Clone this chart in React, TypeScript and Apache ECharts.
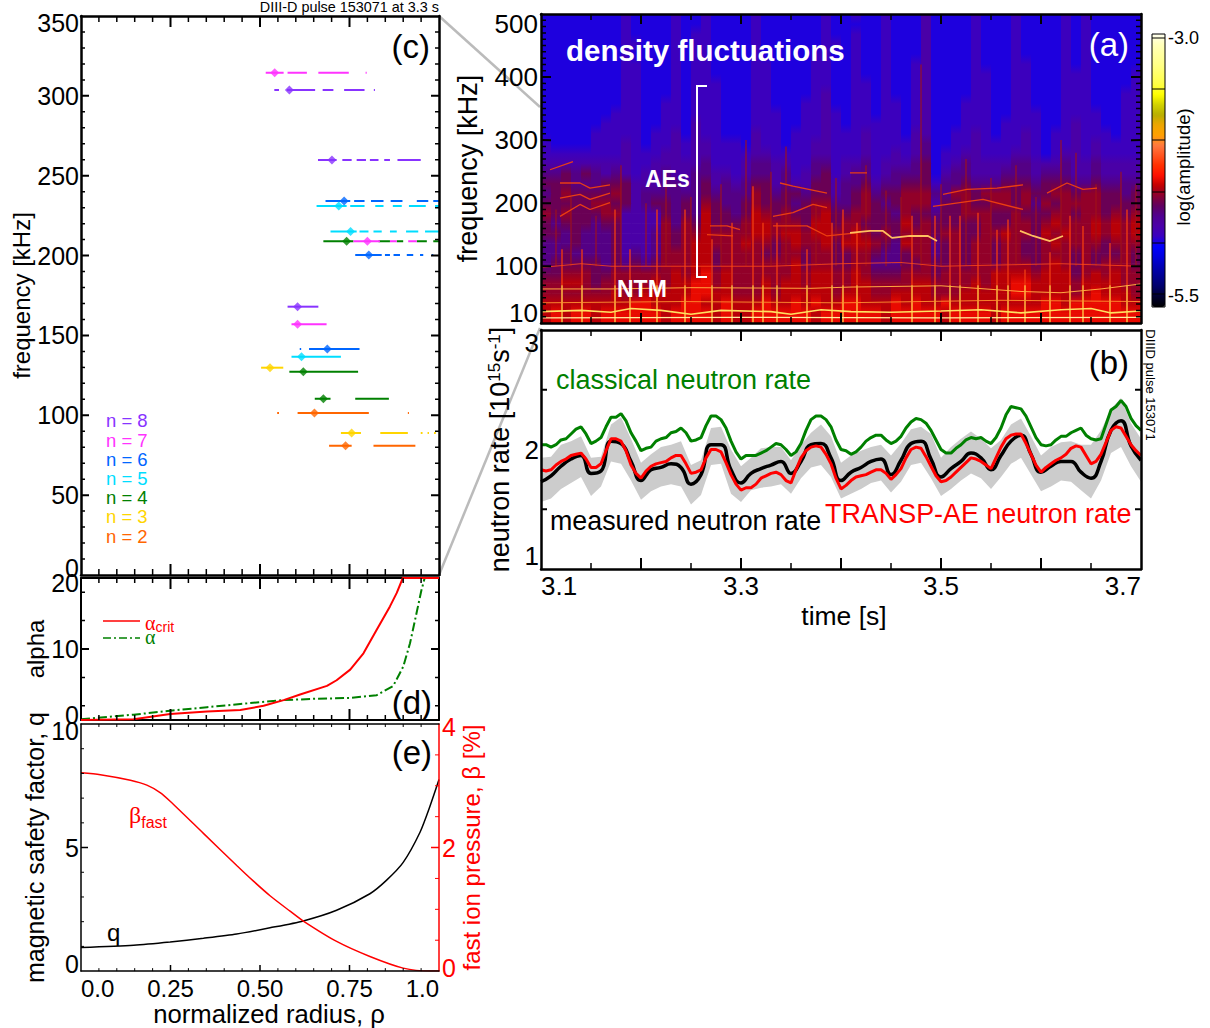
import React, { useEffect, useRef } from "react";
import * as echarts from "echarts";

const FONT = "Liberation Sans";

/* ---------- (a) spectrogram: hand-read levels, one char per 0.01 s, rows 15.8 kHz tall, top to bottom ---------- */
const spectrogramRows = [
  "1111111121 1112112111 1211111121 1211211131 1112111211 1121211111",
  "1111111121 1112112111 1211111121 1111211131 1112111211 1121211111",
  "1111111121 1112122111 1211111121 1211211131 1112111211 1121211111",
  "1111111122 1112122111 1211111122 1211211131 1112111211 1121211111",
  "1111111121 1112122111 1211111221 1211211131 1112111211 1121211111",
  "1111111122 1112122111 1221111221 1211211231 1112111221 1121211111",
  "1111111122 1112122111 1221111221 1211211231 1112211221 1122211112",
  "1111111122 1112122211 1221111221 1221211231 1112211221 1122211112",
  "1111111122 1112122211 1221111231 1221211231 1112211221 1122211122",
  "1111111122 1122122211 1221112231 1221221231 1122211221 1122211122",
  "1111111222 1122122211 1222112232 1221221231 1122211222 1122221122",
  "1111112222 1122132211 1222112232 1222221231 1122212222 1123221122",
  "1111122222 1223132211 1322122232 2232221331 1223212232 1223222122",
  "2111122232 1223233222 1322122332 2232222341 1223222232 1223232222",
  "2222222232 2233233222 2332222332 2232232341 2233222332 1233232222",
  "3333333332 2333334222 3443322442 3342333451 2343333443 3343343333",
  "4454543432 3343344332 3443423452 3442344451 3443334443 4443343333",
  "5554445553 3344345343 4553433553 4453445552 4454445554 5554454444",
  "4565555653 4444445444 4654554553 4564556664 4665666565 5665665545",
  "5555566553 4554546544 5655545664 4565456663 5565566564 6566665555",
  "6565556633 3354547554 5765655675 5665546554 5566655655 5665665656",
  "5455545533 3364657555 6776665775 6655557565 5555655665 6766676767",
  "5545444533 3465667666 6776776776 6765656665 6655667665 7676676767",
  "4445444533 3465677666 7665676675 7776547664 5656656655 6766665666",
  "4454444534 3466677566 6655665665 5665445664 5656656655 6665655565",
  "4555554545 4566677566 6666675665 5664445565 5656656665 6765656665",
  "5566655666 6667678676 6666676776 6765556665 6666677776 7775676766",
  "6677656666 6767788676 6676776776 6776666776 6667677887 7776777766",
  "6666666766 7777788776 6676777776 7776677776 6677777887 7776787776",
  "7777777778 8777887787 7787787877 8877787877 8777777777 8878888877",
  "7878878888 8878888787 7888888788 8888788888 7888878888 8888888888",
];
const levelToLogAmp = [-5.05, -4.99, -4.93, -4.84, -4.72, -4.62, -4.53, -4.46, -4.38, -4.25];
const colorMin = -5.64;
const colorMax = -2.95;
const colorbarColors = [
  "#000000", "#00002e", "#00006a", "#000090", "#0000b5", "#0000e0", "#0000ff", "#3a00c0",
  "#4a00a8", "#500090", "#600060", "#8a0030", "#c00000", "#ff1000", "#ff3000", "#ff5520",
  "#ff7a40", "#ffa000", "#eea500", "#b8ae00", "#d2d200", "#ffff00", "#ffff44", "#ffff66",
  "#ffff88", "#ffffa0", "#ffffbb", "#fffff0",
];
const streakTimes = [3.115,3.13,3.155,3.18,3.205,3.225,3.25,3.28,3.305,3.33,3.345,3.375,3.395,3.425,3.445,3.46,3.48,3.50,3.525,3.55,3.575,3.595,3.62,3.635,3.655,3.68,3.695];
const streakTopFreqs = [190,210,180,260,200,230,210,230,300,250,290,200,240,260,220,210,420,230,270,240,260,210,300,280,230,250,230];
const spikeTimes = [3.121,3.141,3.174,3.189,3.216,3.244,3.271,3.291,3.312,3.322,3.336,3.366,3.391,3.402,3.416,3.471,3.494,3.509,3.519,3.537,3.556,3.567,3.584,3.609,3.629,3.642,3.669,3.686];
const spikeTopFreqs = [127,127,190,127,190,190,143,169,227,169,169,127,169,190,169,180,180,180,180,185,158,174,95,122,180,164,137,190];
const aeRidges: number[][][] = [
  [[3.109,253],[3.132,266]],
  [[3.119,232],[3.139,232],[3.149,224],[3.169,229]],
  [[3.119,208],[3.139,214],[3.149,206],[3.169,216]],
  [[3.119,179],[3.139,198],[3.149,190],[3.169,201]],
  [[3.269,164],[3.286,164],[3.299,158]],
  [[3.266,150],[3.292,148]],
  [[3.332,179],[3.352,185],[3.372,198],[3.386,193]],
  [[3.332,164],[3.366,164],[3.386,148],[3.416,153]],
  [[3.339,232],[3.352,227],[3.386,216]],
  [[3.409,248],[3.426,248]],
  [[3.502,214],[3.526,222],[3.556,224],[3.582,229]],
  [[3.606,216],[3.626,232],[3.642,222],[3.656,224]],
  [[3.492,195],[3.542,206],[3.582,190]],
];
const brightRidges: number[][][] = [
  [[3.409,153],[3.429,156],[3.442,156],[3.451,145],[3.469,148],[3.487,148],[3.496,140]],
  [[3.579,156],[3.592,148],[3.609,140],[3.622,148]],
];
const ntmLine: number[][] = [[3.10,28],[3.14,30],[3.17,27],[3.19,33],[3.22,30],[3.25,24],[3.28,30],[3.33,28],[3.35,24],[3.38,31],[3.41,28],[3.45,27],[3.50,29],[3.54,31],[3.58,26],[3.62,31],[3.65,33],[3.67,26],[3.70,29]];
const lowLine: number[][] = [[3.10,18],[3.30,19],[3.50,18],[3.70,19]];
const mode64Line: number[][] = [[3.10,64],[3.17,64],[3.25,66],[3.37,65],[3.41,67],[3.50,69],[3.58,60],[3.62,58],[3.66,64],[3.70,72]];
const mode42Line: number[][] = [[3.10,42],[3.24,44],[3.40,42],[3.56,46],[3.70,44]];
const mode100Line: number[][] = [[3.10,98],[3.14,104],[3.17,100],[3.33,100],[3.40,104],[3.46,106],[3.50,100],[3.62,104],[3.70,100]];

/* ---------- (b) neutron rates, sampled every 0.01 s from 3.10 s; the *Mid arrays lie half a step later ---------- */
const classicalRate = [2.04,2.02,2.08,2.13,2.19,2.05,2.10,2.27,2.30,2.14,1.99,2.02,2.09,2.14,2.18,2.07,2.10,2.28,2.25,2.07,1.92,1.95,1.97,2.02,2.04,1.95,2.05,2.25,2.28,2.19,2.00,1.96,2.02,2.10,2.12,2.05,2.11,2.23,2.25,2.16,2.00,1.97,2.04,2.10,2.10,2.05,2.18,2.36,2.34,2.19,2.04,2.04,2.11,2.14,2.18,2.09,2.09,2.33,2.41,2.26,2.16];
const classicalRateMid = [2.04,2.04,2.09,2.17,2.13,2.07,2.19,2.27,2.24,2.07,2.01,2.07,2.10,2.15,2.14,2.08,2.20,2.28,2.18,1.98,1.95,1.95,1.99,2.05,2.00,1.98,2.16,2.28,2.25,2.08,1.99,1.98,2.07,2.12,2.08,2.07,2.18,2.26,2.22,2.08,1.97,2.01,2.08,2.09,2.07,2.10,2.29,2.35,2.28,2.10,2.03,2.08,2.11,2.16,2.12,2.08,2.21,2.36,2.36,2.20];
const measuredRate = [1.73,1.78,1.86,1.92,1.95,1.80,1.82,2.07,2.05,1.90,1.74,1.83,1.85,1.88,1.85,1.71,1.79,2.04,2.04,1.83,1.72,1.80,1.84,1.87,1.90,1.80,1.90,2.04,2.05,1.93,1.74,1.81,1.85,1.90,1.92,1.79,1.91,2.05,2.07,1.92,1.77,1.84,1.90,1.97,1.93,1.83,1.95,2.07,2.12,1.96,1.81,1.86,1.90,1.90,1.81,1.76,1.90,2.16,2.24,2.03,1.91];
const transpRate = [1.83,1.83,1.90,1.95,1.97,1.85,1.88,2.09,2.07,1.87,1.76,1.86,1.89,1.93,1.95,1.80,1.83,2.00,1.98,1.79,1.66,1.68,1.76,1.80,1.79,1.72,1.93,2.02,2.02,1.88,1.67,1.74,1.78,1.81,1.83,1.75,1.84,2.00,2.01,1.86,1.73,1.77,1.85,1.93,1.90,1.84,2.02,2.12,2.13,1.96,1.81,1.88,1.93,2.01,2.02,1.88,1.96,2.16,2.18,2.04,1.95];
const transpRateMid = [1.82,1.87,1.92,1.96,1.92,1.85,1.99,2.09,1.99,1.80,1.82,1.88,1.90,1.95,1.88,1.81,1.93,2.00,1.89,1.71,1.68,1.71,1.78,1.81,1.74,1.83,1.99,2.03,1.96,1.76,1.70,1.77,1.79,1.83,1.80,1.79,1.93,2.02,1.94,1.78,1.74,1.81,1.89,1.92,1.87,1.93,2.09,2.13,2.05,1.87,1.85,1.91,1.96,2.03,1.95,1.90,2.06,2.19,2.11,1.99];
const bandUpper = [1.93,1.94,2.04,2.07,2.11,1.93,1.94,2.21,2.27,2.09,1.89,1.96,2.02,2.04,2.07,1.87,1.91,2.18,2.19,2.00,1.86,1.93,2.01,2.02,2.02,1.91,2.04,2.14,2.21,2.11,1.89,1.95,1.99,2.02,2.04,1.95,2.05,2.17,2.19,2.13,1.93,2.02,2.09,2.15,2.09,2.01,2.08,2.21,2.26,2.11,1.95,2.02,2.06,2.07,2.04,2.04,2.16,2.34,2.43,2.22,2.09];
const bandLower = [1.56,1.59,1.67,1.72,1.77,1.61,1.69,1.90,1.88,1.74,1.58,1.65,1.69,1.71,1.69,1.54,1.62,1.87,1.88,1.63,1.56,1.66,1.68,1.69,1.71,1.63,1.76,1.85,1.87,1.77,1.59,1.63,1.67,1.72,1.74,1.64,1.73,1.87,1.89,1.76,1.61,1.67,1.74,1.80,1.76,1.67,1.77,1.88,1.93,1.79,1.65,1.69,1.74,1.73,1.66,1.59,1.74,1.97,2.02,1.86,1.73];

/* ---------- (c) modes: freq [kHz], rho of the dot, [start, end] of each drawn stretch ---------- */
type Mode = { f: number; dot: number; segs: number[][] };
const n8Modes: Mode[] = [
  { f: 303.7, dot: .582, segs: [[.540,.553],[.575,.654],[.675,.705],[.735,.792],[.818,.821]] },
  { f: 259.9, dot: .701, segs: [[.662,.714],[.730,.756],[.770,.796],[.807,.831],[.847,.863],[.884,.949]] },
  { f: 168, dot: .605, segs: [[.577,.663]] },
];
const n7Modes: Mode[] = [
  { f: 314.5, dot: .541, segs: [[.516,.566],[.577,.631],[.663,.748],[.795,.798]] },
  { f: 209, dot: .800, segs: [[.761,.835],[.863,.882],[.914,.938]] },
  { f: 157, dot: .605, segs: [[.588,.686]] },
];
const n6Modes: Mode[] = [
  { f: 234.2, dot: .735, segs: [[.683,.752],[.763,.792],[.810,.845],[.865,.898],[.938,.970],[.984,1]] },
  { f: 200.4, dot: .804, segs: [[.766,.840],[.849,.863],[.873,.891],[.910,.928],[.947,.956],[.980,.984]] },
  { f: 141.5, dot: .688, segs: [[.611,.615],[.637,.778]] },
];
const n5Modes: Mode[] = [
  { f: 231, dot: .720, segs: [[.658,.742],[.752,.792],[.822,.845],[.871,.896],[.916,.963],[.989,1]] },
  { f: 215, dot: .753, segs: [[.697,.770],[.778,.803],[.817,.840],[.863,.882],[.908,.942],[.961,1]] },
  { f: 136.7, dot: .616, segs: [[.588,.726]] },
];
const n4Modes: Mode[] = [
  { f: 209, dot: .742, segs: [[.677,.761],[.831,.863],[.882,.900],[.938,.966],[.984,1]] },
  { f: 127.3, dot: .621, segs: [[.582,.774]] },
  { f: 110.4, dot: .677, segs: [[.653,.697],[.766,.860]] },
];
const n3Modes: Mode[] = [
  { f: 129.8, dot: .528, segs: [[.503,.565]] },
  { f: 88.9, dot: .756, segs: [[.726,.782],[.836,.913],[.949,.954],[.968,.972],[.986,.991]] },
];
const n2Modes: Mode[] = [
  { f: 101.4, dot: .652, segs: [[.548,.553],[.605,.804],[.913,.916]] },
  { f: 81, dot: .739, segs: [[.693,.756],[.817,.934]] },
];
const modeGroups = [
  { label: "n = 8", color: "#8833ff", modes: n8Modes, y: 420 },
  { label: "n = 7", color: "#ff33ff", modes: n7Modes, y: 440 },
  { label: "n = 6", color: "#0066ff", modes: n6Modes, y: 459 },
  { label: "n = 5", color: "#00ddff", modes: n5Modes, y: 478 },
  { label: "n = 4", color: "#008000", modes: n4Modes, y: 497 },
  { label: "n = 3", color: "#ffd500", modes: n3Modes, y: 516 },
  { label: "n = 2", color: "#ff6600", modes: n2Modes, y: 536 },
];

/* ---------- (d) and (e) profiles ---------- */
const alphaCrit: number[][] = [[0,0],[.147,.1],[.249,.85],[.352,1.2],[.445,1.4],[.51,2],[.566,2.8],[.612,3.6],[.687,4.8],[.714,5.6],[.752,7.1],[.789,9.4],[.826,12.7],[.863,16],[.882,17.9],[.899,20],[1,20]];
const alphaProfile: number[][] = [[0,.1],[.147,.75],[.249,1.3],[.352,1.8],[.445,2.25],[.519,2.6],[.566,2.8],[.659,3],[.752,3.1],[.826,3.5],[.872,4.8],[.9,7.5],[.919,10.8],[.937,15],[.951,18.3],[.96,20]];
const qProfile: number[][] = [[0,.96],[.147,1.05],[.249,1.18],[.342,1.33],[.435,1.5],[.528,1.75],[.621,2.03],[.714,2.46],[.807,3.13],[.853,3.67],[.9,4.4],[.947,5.62],[.975,6.68],[1,7.75]];
const betaFast: number[][] = [[0,3.21],[.054,3.18],[.138,3.09],[.184,3.01],[.221,2.89],[.249,2.75],[.342,2.23],[.435,1.71],[.481,1.46],[.528,1.22],[.584,.97],[.621,.81],[.714,.48],[.807,.236],[.9,.048],[.975,0],[1,0]];

/* ---------- tick lists ---------- */
const seq = (a: number, b: number, s: number) => {
  const out: number[] = [];
  for (let i = 0; a + i * s <= b + 1e-9; i++) out.push(+(a + i * s).toFixed(4));
  return out;
};
const timeMajorTicks = [3.2, 3.3, 3.4, 3.5, 3.6];
const timeMinorTicks = [3.15, 3.25, 3.35, 3.45, 3.55, 3.65];
const rhoMajorTicks = [0.25, 0.5, 0.75];
const rhoMinorTicks = [.05,.1,.15,.2,.3,.35,.4,.45,.55,.6,.65,.7,.8,.85,.9,.95];
const freqAMajorTicks = [100, 200, 300, 400];
const freqAMinorTicks = seq(20, 490, 10).filter((v) => v % 100 !== 0);
const rateTicks = [1.5, 2.5];
const freqCMajorTicks = [50, 100, 150, 200, 250, 300];
const freqCMinorTicks = seq(10, 340, 10).filter((v) => v % 50 !== 0);
const alphaMajorTicks = [10];
const alphaMinorTicks = [2, 6, 14, 18];
const qMajorTicks = [5];
const qMinorTicks = [1, 2, 3, 4, 6, 7, 8, 9];
const betaMajorTicks = [2];
const betaMinorTicks = [.5, 1, 1.5, 2.5, 3, 3.5];

const interleave = (a: number[], b: number[]) => {
  const out: number[][] = [];
  a.forEach((v, i) => {
    out.push([+(3.1 + i * 0.01).toFixed(3), v]);
    if (i < b.length) out.push([+(3.105 + i * 0.01).toFixed(3), b[i]]);
  });
  return out;
};
const colorOf = (v: number) => echarts.color.lerp(Math.min(1, Math.max(0, (v - colorMin) / (colorMax - colorMin))), colorbarColors) as string;

function buildOption() {
  const xAxes: any[] = [];
  const yAxes: any[] = [];

  const grids = [
    { left: 541, top: 14, width: 600, height: 309 }, // a
    { left: 541, top: 330, width: 600, height: 239 }, // b
    { left: 81, top: 16, width: 358, height: 559 }, // c
    { left: 81, top: 578, width: 358, height: 142 }, // d
    { left: 81, top: 724, width: 358, height: 249 }, // e
  ];

  const side = (
    list: any[], grid: number, position: string, min: number, max: number,
    o: { lw: number; color?: string; labels?: any; name?: any },
  ) => {
    const color = o.color || "#000";
    const index = list.length;
    list.push({
      type: "value", gridIndex: grid, position, min, max, silent: true, z: 10,
      splitLine: { show: false },
      axisLine: { show: true, onZero: false, lineStyle: { color, width: o.lw } },
      axisTick: { show: false },
      axisLabel: o.labels || { show: false },
      ...(o.name || {}),
    });
    return index;
  };

  const yLabels = (values: number[], offset: number, margin: number, color = "#000", fontSize = 25) => ({
    show: true, customValues: values, margin, color, fontSize, fontFamily: FONT, lineHeight: offset * 2,
    verticalAlignMinLabel: "bottom", verticalAlignMaxLabel: "top",
    formatter: (v: number) => String(v),
  });
  const yName = (name: string, gap: number, fontSize: number, color = "#000", extra: any = {}) => ({
    name, nameLocation: "middle", nameGap: gap, nameRotate: 90,
    nameTextStyle: { color, fontSize, fontFamily: FONT, ...extra },
  });
  const xName = (name: string, gap: number, fontSize: number, shift: number) => ({
    name, nameLocation: "middle", nameGap: gap,
    nameTextStyle: { color: "#000", fontSize, fontFamily: FONT, padding: [0, 0, 0, shift] },
  });

  // panel (a)
  const ax = side(xAxes, 0, "bottom", 3.1, 3.7, { lw: 2.5 });
  side(xAxes, 0, "top", 3.1, 3.7, { lw: 2.5 });
  const ay = side(yAxes, 0, "left", 10, 500, {
    lw: 2.5, labels: yLabels([10, 100, 200, 300, 400, 500], 10, 3, "#000", 26), name: yName("frequency [kHz]", 60, 27),
  });
  side(yAxes, 0, "right", 10, 500, { lw: 2.5 });

  // panel (b)
  const bx = side(xAxes, 1, "bottom", 3.1, 3.7, {
    lw: 2.5,
    labels: {
      show: true, customValues: [3.1, 3.3, 3.5, 3.7], margin: 4, color: "#000", fontSize: 26, fontFamily: FONT,
      alignMinLabel: "left", alignMaxLabel: "right", formatter: (v: number) => v.toFixed(1),
    },
    name: xName("time [s]", 33, 26.5, 6),
  });
  side(xAxes, 1, "top", 3.1, 3.7, { lw: 2.5 });
  const by = side(yAxes, 1, "left", 1, 3, {
    lw: 2.5, labels: yLabels([1, 2, 3], 13, 2, "#000", 26),
    name: yName("neutron rate [10{sup|15}s{sup|-1}]", 28, 27, "#000", {
      rich: { sup: { fontSize: 17, fontFamily: FONT, verticalAlign: "top", lineHeight: 27, color: "#000" } },
    }),
  });
  side(yAxes, 1, "right", 1, 3, { lw: 2.5 });

  // panel (c)
  const cx = side(xAxes, 2, "bottom", 0, 1, { lw: 2.5 });
  side(xAxes, 2, "top", 0, 1, { lw: 2.5 });
  const cy = side(yAxes, 2, "left", 0, 350, {
    lw: 2.5, labels: yLabels([0, 50, 100, 150, 200, 250, 300, 350], 7, 2), name: yName("frequency [kHz]", 47, 24),
  });
  side(yAxes, 2, "right", 0, 350, { lw: 2.5 });

  // panel (d)
  const dx = side(xAxes, 3, "bottom", 0, 1, { lw: 2 });
  side(xAxes, 3, "top", 0, 1, { lw: 2 });
  const dy = side(yAxes, 3, "left", 0, 20, {
    lw: 2, labels: yLabels([0, 10, 20], 5, 2), name: yName("alpha", 24, 24),
  });
  side(yAxes, 3, "right", 0, 20, { lw: 2 });

  // panel (e)
  const ex = side(xAxes, 4, "bottom", 0, 1, {
    lw: 1.5,
    labels: {
      show: true, customValues: [0, .25, .5, .75, 1], margin: 5, color: "#000", fontSize: 24, fontFamily: FONT,
      alignMinLabel: "left", alignMaxLabel: "right",
      formatter: (v: number) => (v === 0 ? "0.0" : v === 1 ? "1.0" : v.toFixed(2)),
    },
    name: xName("normalized radius, ρ", 27, 25.7, 18),
  });
  side(xAxes, 4, "top", 0, 1, { lw: 1.5 });
  const ey = side(yAxes, 4, "left", 0, 10, {
    lw: 1.5, labels: yLabels([0, 5, 10], 7, 2), name: yName("magnetic safety factor, q", 26, 25),
  });
  const eyr = side(yAxes, 4, "right", 0, 4, {
    lw: 1.5, color: "#ff0000",
    labels: yLabels([0, 2, 4], 3, 3, "#ff0000"), name: yName("fast ion pressure, β [%]", 20, 24, "#ff0000"),
  });

  /* series */
  const series: any[] = [];
  const rowCount = spectrogramRows.length;
  const df = 490 / rowCount;
  const dt = 0.01;
  const cells: number[][] = [];
  const rows = spectrogramRows.map((r) => r.replace(/ /g, ""));
  rows.forEach((chars, r) => {
    const next = rows[Math.min(r + 1, rowCount - 1)];
    for (let c = 0; c < chars.length; c++) {
      cells.push([3.1 + c * dt, 500 - r * df, levelToLogAmp[+chars[c]], levelToLogAmp[+next[c]]]);
    }
  });
  series.push({
    type: "custom", name: "density fluctuations", xAxisIndex: ax, yAxisIndex: ay, clip: true, silent: true,
    data: cells, encode: { x: 0, y: 1 }, z: 1,
    renderItem: (_p: any, api: any) => {
      const a = api.coord([api.value(0), api.value(1)]);
      const b = api.coord([api.value(0) + dt, api.value(1) - df]);
      return {
        type: "rect",
        shape: { x: a[0], y: a[1], width: b[0] - a[0] + 0.6, height: b[1] - a[1] + 0.6 },
        style: {
          fill: new echarts.graphic.LinearGradient(0, 0, 0, 1, [
            { offset: 0, color: colorOf(api.value(2)) },
            { offset: 1, color: colorOf(api.value(3)) },
          ]),
        },
      };
    },
  });

  const flat = (lines: number[][][]) => {
    const out: any[] = [];
    lines.forEach((l) => { l.forEach((p) => out.push(p)); out.push([null, null]); });
    return out;
  };
  const aLine = (data: any[], color: string, width: number, opacity = 1) => series.push({
    type: "line", xAxisIndex: ax, yAxisIndex: ay, data, symbol: "none", silent: true, z: 2, smooth: false, connectNulls: false,
    lineStyle: { color, width, opacity },
  });
  aLine(flat(streakTimes.map((t, i) => [[t, 100], [t, streakTopFreqs[i]]])), "#a01018", 2, 0.55);
  aLine(flat(spikeTimes.map((t, i) => [[t, 70], [t, spikeTopFreqs[i]]])), "#f03a10", 1.6, 0.85);
  aLine(flat(spikeTimes.map((t) => [[t, 10], [t, 70]])), "#ffb840", 1.6, 0.95);
  aLine(flat(aeRidges), "#f04010", 1.3, 0.95);
  aLine(flat(brightRidges), "#ffc060", 1.8);
  aLine(mode100Line, "#ff4818", 1, 0.8);
  aLine(mode64Line, "#ffa840", 1);
  aLine(mode42Line, "#ff9030", 1, 0.9);
  aLine(ntmLine, "#ffe060", 1.6);
  aLine(lowLine, "#ffeea0", 1.2);

  const times = classicalRate.map((_, i) => +(3.1 + i * 0.01).toFixed(2));
  series.push({
    type: "custom", name: "band", xAxisIndex: bx, yAxisIndex: by, silent: true, clip: true, z: 2,
    data: [[times[0], bandLower[0]]], encode: { x: 0, y: 1 },
    renderItem: (_p: any, api: any) => {
      const pts: number[][] = [];
      times.forEach((t, i) => pts.push(api.coord([t, bandUpper[i]])));
      for (let i = times.length - 1; i >= 0; i--) pts.push(api.coord([times[i], bandLower[i]]));
      return { type: "polygon", shape: { points: pts }, style: { fill: "#cccccc" } };
    },
  });
  const bLine = (data: number[][], color: string, width: number, name: string, smooth = false) => series.push({
    type: "line", name, xAxisIndex: bx, yAxisIndex: by, symbol: "none", silent: true, z: 3, smooth,
    data, lineStyle: { color, width },
  });
  bLine(interleave(classicalRate, classicalRateMid), "#008000", 3, "classical neutron rate");
  bLine(measuredRate.map((v, i) => [times[i], v]), "#000000", 3.5, "measured neutron rate", true);
  bLine(interleave(transpRate, transpRateMid), "#ff0000", 3, "TRANSP-AE neutron rate");

  modeGroups.slice().reverse().forEach((g) => {
    g.modes.forEach((m) => {
      series.push({
        type: "line", name: g.label, xAxisIndex: cx, yAxisIndex: cy, symbol: "none", silent: true, z: 3,
        data: flat(m.segs.map((s) => [[s[0], m.f], [s[1], m.f]])), lineStyle: { color: g.color, width: 2 },
      });
      series.push({
        type: "scatter", name: g.label, xAxisIndex: cx, yAxisIndex: cy, symbol: "diamond", symbolSize: 9, silent: true, z: 4,
        data: [[m.dot, m.f]], itemStyle: { color: g.color },
      });
    });
  });

  series.push({
    type: "line", name: "alpha crit", xAxisIndex: dx, yAxisIndex: dy, symbol: "none", silent: true, z: 12,
    data: alphaCrit, lineStyle: { color: "#ff0000", width: 2 }, clip: false,
  });
  series.push({
    type: "line", name: "alpha", xAxisIndex: dx, yAxisIndex: dy, symbol: "none", silent: true, z: 3,
    data: alphaProfile, lineStyle: { color: "#008000", width: 2, type: [9, 3, 2, 3] },
  });
  series.push({
    type: "line", name: "q", xAxisIndex: ex, yAxisIndex: ey, symbol: "none", silent: true, z: 3,
    data: qProfile, smooth: 0.25, lineStyle: { color: "#000", width: 1.5 },
  });
  series.push({
    type: "line", name: "beta fast", xAxisIndex: ex, yAxisIndex: eyr, symbol: "none", silent: true, z: 3,
    data: betaFast, smooth: 0.25, lineStyle: { color: "#ff0000", width: 1.5 },
  });

  /* ticks: inward strokes placed through each panel's own scales */
  const tickSeries = (xIdx: number, yIdx: number, color: string, items: number[][]) => series.push({
    type: "custom", name: "ticks", xAxisIndex: xIdx, yAxisIndex: yIdx, silent: true, clip: false, z: 20,
    data: items, encode: { x: 0, y: 1 },
    renderItem: (_p: any, api: any) => {
      const a = api.coord([api.value(0), api.value(1)]);
      return {
        type: "line",
        shape: { x1: a[0], y1: a[1], x2: a[0] + api.value(2) + 0.01, y2: a[1] + api.value(3) + 0.01 },
        style: { stroke: color, lineWidth: api.value(4) },
      };
    },
  });
  const xTicks = (values: number[], yMin: number, yMax: number, len: number, width: number) => values.flatMap((v) => [
    [v, yMin, 0, -len, width], [v, yMax, 0, len, width],
  ]);
  const yTicks = (values: number[], xMin: number, xMax: number, len: number, width: number) => values.flatMap((v) => [
    [xMin, v, len, 0, width], [xMax, v, -len, 0, width],
  ]);
  tickSeries(ax, ay, "#000", [
    ...xTicks(timeMajorTicks, 10, 500, 10, 2), ...xTicks(timeMinorTicks, 10, 500, 6, 1.5),
    ...yTicks(freqAMajorTicks, 3.1, 3.7, 10, 2), ...yTicks(freqAMinorTicks, 3.1, 3.7, 5, 1.5),
  ]);
  tickSeries(bx, by, "#000", [
    ...xTicks(timeMajorTicks, 1, 3, 11, 2), ...xTicks(timeMinorTicks, 1, 3, 6, 1.5),
    ...yTicks(rateTicks, 3.1, 3.7, 6, 2),
  ]);
  tickSeries(cx, cy, "#000", [
    ...xTicks(rhoMajorTicks, 0, 350, 11, 2), ...xTicks(rhoMinorTicks, 0, 350, 6, 1.5),
    ...yTicks(freqCMajorTicks, 0, 1, 8, 2), ...yTicks(freqCMinorTicks, 0, 1, 4, 1.5),
  ]);
  tickSeries(dx, dy, "#000", [
    ...xTicks(rhoMajorTicks, 0, 20, 11, 2), ...xTicks(rhoMinorTicks, 0, 20, 5, 1.5),
    ...yTicks(alphaMajorTicks, 0, 1, 8, 2), ...yTicks(alphaMinorTicks, 0, 1, 4, 1.5),
  ]);
  tickSeries(ex, ey, "#000", [
    ...xTicks(rhoMajorTicks, 0, 10, 6, 1.5), ...xTicks(rhoMinorTicks, 0, 10, 3, 1),
    ...qMajorTicks.map((v) => [0, v, 7, 0, 1.5]), ...qMinorTicks.map((v) => [0, v, 3, 0, 1]),
  ]);
  tickSeries(ex, eyr, "#ff0000", [
    ...betaMajorTicks.map((v) => [1, v, -8, 0, 1.5]), ...betaMinorTicks.map((v) => [1, v, -4, 0, 1]),
  ]);

  /* annotations */
  const txt = (text: string, x: number, y: number, fontSize: number, fill: string, o: any = {}) => ({
    type: "text", x, y, z: 100, silent: true, rotation: o.rotation || 0,
    style: {
      text, fill, fontSize, fontFamily: o.fontFamily || FONT, fontWeight: o.fontWeight || "normal",
      textAlign: o.align || "left", textVerticalAlign: "middle", rich: o.rich,
    },
  });
  const graphicLine = (x1: number, y1: number, x2: number, y2: number, stroke: string, lineWidth: number, z = 100) => ({
    type: "line", z, silent: true, shape: { x1, y1, x2, y2 }, style: { stroke, lineWidth },
  });
  const graphic: any[] = [
    graphicLine(439, 16, 540, 107, "#bbbbbb", 2.5, 0),
    graphicLine(439, 575, 540, 328, "#bbbbbb", 2.5, 0),
    txt("DIII-D pulse 153071 at 3.3 s", 439, 7, 14.4, "#000", { align: "right" }),
    txt("density fluctuations", 566, 50, 29.5, "#fff", { fontWeight: "bold" }),
    txt("AEs", 645, 179, 23, "#fff", { fontWeight: "bold" }),
    txt("NTM", 617, 289, 23, "#fff", { fontWeight: "bold" }),
    { type: "polyline", z: 100, silent: true, shape: { points: [[707, 86], [697, 86], [697, 277], [707, 277]] }, style: { stroke: "#fff", lineWidth: 2, fill: "none" } },
    txt("(a)", 1129, 44, 33, "#fff", { align: "right" }),
    txt("(b)", 1129, 362, 33, "#000", { align: "right" }),
    txt("(c)", 430, 46, 33, "#000", { align: "right" }),
    txt("(d)", 432, 702, 33, "#000", { align: "right" }),
    txt("(e)", 432, 752, 33, "#000", { align: "right" }),
    txt("classical neutron rate", 556, 380, 27, "#008000"),
    txt("measured neutron rate", 550, 521, 26.8, "#000"),
    txt("TRANSP-AE neutron rate", 825, 514, 26.9, "#ff0000"),
    txt("DIIID pulse 153071", 1150, 385, 13, "#000", { align: "center", rotation: -Math.PI / 2 }),
    txt("log(amplitude)", 1183, 167, 18.5, "#000", { align: "center", rotation: Math.PI / 2 }),
    txt("-3.0", 1168, 38, 18, "#000"),
    txt("-5.5", 1168, 296, 18, "#000"),
    { type: "rect", z: 100, silent: true, shape: { x: 1152, y: 34, width: 13, height: 273 }, style: { stroke: "#000", lineWidth: 1, fill: "none" } },
    ...[38, 89, 140, 192, 243, 294].map((y) => graphicLine(1152, y, 1165, y, "#000", 1)),
    graphicLine(103, 621, 140, 621, "#ff0000", 1.5),
    { type: "line", z: 100, silent: true, shape: { x1: 103, y1: 638, x2: 140, y2: 638 }, style: { stroke: "#008000", lineWidth: 1.5, lineDash: [8, 3, 2, 3] } },
    txt("{a|α}{s|crit}", 145, 623, 20, "#ff0000", {
      fontFamily: "Liberation Serif",
      rich: { a: { fontSize: 20, fontFamily: "Liberation Serif", color: "#ff0000" }, s: { fontSize: 14, fontFamily: FONT, verticalAlign: "bottom", color: "#ff0000", padding: [8, 0, 0, 0] } },
    }),
    txt("α", 145, 637, 20, "#008000", { fontFamily: "Liberation Serif" }),
    txt("{b|β}{s|fast}", 129, 815, 24, "#ff0000", {
      fontFamily: "Liberation Serif",
      rich: { b: { fontSize: 24, fontFamily: "Liberation Serif", color: "#ff0000" }, s: { fontSize: 16, fontFamily: FONT, verticalAlign: "bottom", color: "#ff0000", padding: [14, 0, 0, 0] } },
    }),
    txt("q", 107, 932, 24, "#000"),
    ...modeGroups.map((g) => txt(g.label, 106, g.y, 18.5, g.color)),
  ];

  return {
    animation: false,
    backgroundColor: "#ffffff",
    textStyle: { fontFamily: FONT },
    grid: grids,
    xAxis: xAxes,
    yAxis: yAxes,
    visualMap: {
      type: "continuous", show: true, seriesIndex: 0, dimension: 2, min: colorMin, max: colorMax,
      left: 1152, top: 34, itemWidth: 13, itemHeight: 273, padding: 0, calculable: false, hoverLink: false,
      text: null, inRange: { color: colorbarColors },
    },
    series,
    graphic,
  };
}

export default function App() {
  const ref = useRef<HTMLDivElement>(null);
  useEffect(() => {
    const chart = echarts.init(ref.current!, null, { renderer: "svg" });
    chart.setOption(buildOption() as any);
    return () => chart.dispose();
  }, []);
  return <div ref={ref} style={{ position: "absolute", left: 0, top: 0, width: 1210, height: 1028 }} />;
}
